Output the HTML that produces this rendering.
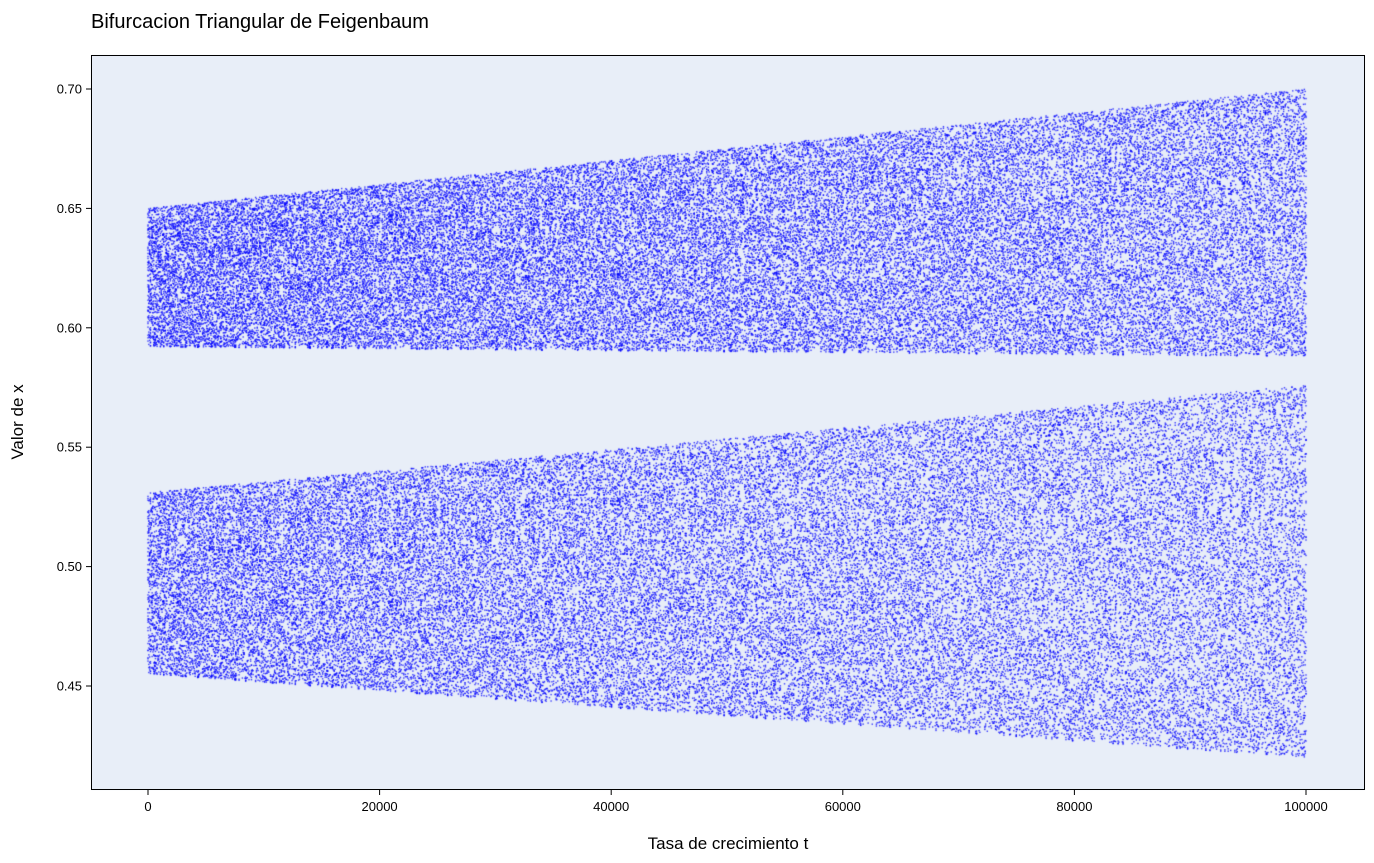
<!DOCTYPE html>
<html><head><meta charset="utf-8">
<style>
body{margin:0;background:#fff;width:1374px;height:863px;overflow:hidden;font-family:"Liberation Sans",sans-serif;}
#wrap{position:relative;width:1374px;height:863px;}
canvas{position:absolute;left:0;top:0;}
</style></head>
<body>
<div id="wrap">
<canvas id="c" width="1374" height="863"></canvas>
<svg id="s" width="1374" height="863" style="position:absolute;left:0;top:0"></svg>
</div>
<script>
// Data
const xTicks=[0,20000,40000,60000,80000,100000];
const yTicks=[0.45,0.50,0.55,0.60,0.65,0.70];
const bandT=[0,100000];               // growth rate endpoints
const upperLow=[0.592,0.588];
const upperHigh=[0.650,0.700];
const lowerLow=[0.455,0.420];
const lowerHigh=[0.531,0.576];
const nColumns=1400, perColumn=40;

const L=91,R=1365,T=55,B=790;
const xs=t=>148+(t-0)*(1306-148)/100000;
const ys=v=>89+(0.70-v)*(686-89)/0.25;
const lerp=(a,t)=>a[0]+(a[1]-a[0])*(t-bandT[0])/(bandT[1]-bandT[0]);

const cv=document.getElementById('c'),ctx=cv.getContext('2d');
ctx.fillStyle='#e8eef8';ctx.fillRect(L,T,R-L,B-T);
ctx.fillStyle='rgba(0,0,255,0.75)';
let x=0.2137;
for(let i=0;i<nColumns;i++){
  const t=bandT[0]+(bandT[1]-bandT[0])*i/(nColumns-1);
  for(let k=0;k<perColumn;k++){
    x=4*x*(1-x); if(x<=1e-9||x>=1-1e-9)x=0.3141+k*0.001;
    const u=2/Math.PI*Math.asin(Math.sqrt(x));
    x=4*x*(1-x); if(x<=1e-9||x>=1-1e-9)x=0.2718+k*0.001;
    const u2=2/Math.PI*Math.asin(Math.sqrt(x));
    const v1=lerp(upperLow,t)+u*(lerp(upperHigh,t)-lerp(upperLow,t));
    const v2=lerp(lowerLow,t)+u2*(lerp(lowerHigh,t)-lerp(lowerLow,t));
    ctx.fillRect(xs(t)-0.7,ys(v1)-0.7,1.4,1.4);
    ctx.fillRect(xs(t)-0.7,ys(v2)-0.7,1.4,1.4);
  }
}
const svg=document.getElementById('s'),NS='http://www.w3.org/2000/svg';
function mk(tag,attrs,txt){const e=document.createElementNS(NS,tag);for(const k in attrs)e.setAttribute(k,attrs[k]);if(txt!==undefined)e.textContent=txt;svg.appendChild(e);return e;}
let f=mk('rect',{x:L+0.5,y:T+0.5,width:R-L-1,height:B-T-1,fill:'none',stroke:'#000','stroke-width':1});


xTicks.forEach(t=>{
  const l=mk('line',{x1:xs(t),x2:xs(t),y1:B,y2:B+5,stroke:'#000'});
  
  
  const e=mk('text',{x:xs(t),y:B+21,'text-anchor':'middle','font-size':'13'},String(t));
  
  
});
yTicks.forEach(v=>{
  const l=mk('line',{x1:L-5,x2:L,y1:ys(v),y2:ys(v),stroke:'#000'});
  
  
  const e=mk('text',{x:L-9,y:ys(v)+4.5,'text-anchor':'end','font-size':'13'},v.toFixed(2));
  
  
});
let tt=mk('text',{x:91,y:28,'font-size':'20'},'Bifurcacion Triangular de Feigenbaum');


let xl=mk('text',{x:728,y:849,'text-anchor':'middle','font-size':'17'},'Tasa de crecimiento t');


let yl=mk('text',{x:23,y:422,'text-anchor':'middle','font-size':'17',transform:'rotate(-90 23 422)'},'Valor de x');


</script>
</body></html>
